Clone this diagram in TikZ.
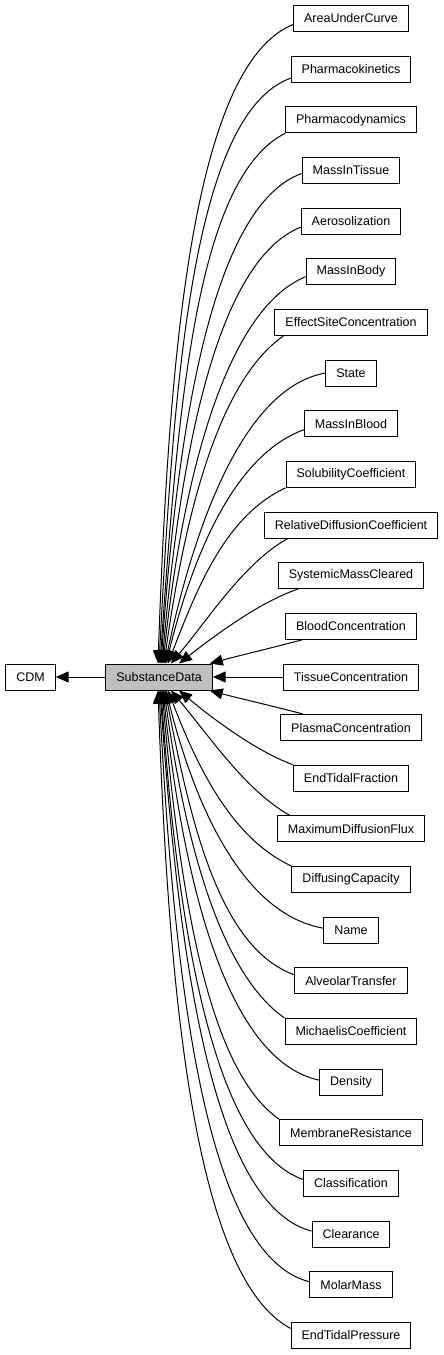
\documentclass[tikz,border=0pt]{standalone}
\usepackage{fontspec}
\setmainfont{Liberation Sans}
\usetikzlibrary{arrows.meta}
\begin{document}
\begin{tikzpicture}[x=1pt,y=1pt]
	\tikzset{cls/.style={rectangle, draw=black, fill=white, line width=1pt, minimum height=26pt, inner xsep=10.5pt, inner ysep=0pt, font=\fontsize{12.5}{15}\selectfont}};
	\tikzset{dep/.style={draw=black, line width=1pt, -{Triangle[length=13pt,width=11pt]}}};
	\useasboundingbox (0,0) rectangle (444,-1355);

	\node[cls] (CDM) at (30.5,-677) {CDM};
	\node[cls,fill=black!25] (SD) at (159,-677) {SubstanceData};

	\node[cls] (AUC) at (351,-18.5) {AreaUnderCurve};
	\node[cls] (PK) at (351,-69.15) {Pharmacokinetics};
	\node[cls] (PD) at (351,-119.8) {Pharmacodynamics};
	\node[cls] (MIT) at (351,-170.45) {MassInTissue};
	\node[cls] (AER) at (351,-221.1) {Aerosolization};
	\node[cls] (MIBo) at (351,-271.75) {MassInBody};
	\node[cls] (ESC) at (351,-322.4) {EffectSiteConcentration};
	\node[cls] (ST) at (351,-373.05) {State};
	\node[cls] (MIBl) at (351,-423.7) {MassInBlood};
	\node[cls] (SC) at (351,-474.35) {SolubilityCoefficient};
	\node[cls] (RDC) at (351,-525) {RelativeDiffusionCoefficient};
	\node[cls] (SMC) at (351,-575.65) {SystemicMassCleared};
	\node[cls] (BC) at (351,-626.3) {BloodConcentration};
	\node[cls] (TC) at (351,-677) {TissueConcentration};
	\node[cls] (PC) at (351,-727.6) {PlasmaConcentration};
	\node[cls] (ETF) at (351,-778.25) {EndTidalFraction};
	\node[cls] (MDF) at (351,-828.9) {MaximumDiffusionFlux};
	\node[cls] (DC) at (351,-879.55) {DiffusingCapacity};
	\node[cls] (NM) at (351,-930.2) {Name};
	\node[cls] (AT) at (351,-980.85) {AlveolarTransfer};
	\node[cls] (MC) at (351,-1031.5) {MichaelisCoefficient};
	\node[cls] (DEN) at (351,-1082.15) {Density};
	\node[cls] (MR) at (351,-1132.8) {MembraneResistance};
	\node[cls] (CLS) at (351,-1183.45) {Classification};
	\node[cls] (CLR) at (351,-1234.1) {Clearance};
	\node[cls] (MM) at (351,-1284.75) {MolarMass};
	\node[cls] (ETP) at (351,-1335.4) {EndTidalPressure};

	\draw[dep] (SD) -- (CDM);
	\draw[dep] (TC) -- (SD);

	% upper half
	\draw[dep] ([yshift=-6pt]AUC.west) to[out=202,in=88,out distance=110pt,in distance=300pt] ([xshift=-1pt]SD.north);
	\draw[dep] ([yshift=-9pt]PK.west) to[out=200,in=87,out distance=105pt,in distance=280pt] (SD.north);
	\draw[dep] (PD.south west) to[out=207,in=86,out distance=100pt,in distance=260pt] ([xshift=1pt]SD.north);
	\draw[dep] ([yshift=-3pt]MIT.west) to[out=200,in=86,out distance=95pt,in distance=240pt] ([xshift=2pt]SD.north);
	\draw[dep] ([yshift=-6pt]AER.west) to[out=202,in=85,out distance=90pt,in distance=215pt] ([xshift=3pt]SD.north);
	\draw[dep] ([yshift=-5pt]MIBo.west) to[out=202,in=84,out distance=85pt,in distance=190pt] ([xshift=4pt]SD.north);
	\draw[dep] ([xshift=9pt]ESC.south west) to[out=215,in=82,out distance=75pt,in distance=165pt] ([xshift=5pt]SD.north);
	\draw[dep] (ST.west) to[out=190,in=78,out distance=85pt,in distance=135pt] ([xshift=6pt]SD.north);
	\draw[dep] ([yshift=-6pt]MIBl.west) to[out=200,in=76,out distance=75pt,in distance=110pt] ([xshift=7pt]SD.north);
	\draw[dep] (SC.south west) to[out=205,in=69,out distance=65pt,in distance=85pt] ([xshift=9pt]SD.north);
	\draw[dep] ([xshift=24pt]RDC.south west) to[out=209,in=50,out distance=50pt,in distance=60pt] ([xshift=12pt]SD.north);
	\draw[dep] ([xshift=20pt]SMC.south west) to[out=198,in=38,out distance=40pt,in distance=40pt] ([xshift=20pt]SD.north);
	\draw[dep] ([xshift=17pt]BC.south west) to[out=195,in=15,out distance=30pt,in distance=30pt] ([xshift=-3pt]SD.north east);

	% lower half
	\draw[dep] ([xshift=23pt]PC.north west) to[out=165,in=-15,out distance=30pt,in distance=30pt] ([xshift=-3pt]SD.south east);
	\draw[dep] (ETF.north west) to[out=160,in=-40,out distance=40pt,in distance=40pt] ([xshift=20pt]SD.south);
	\draw[dep] ([xshift=13pt]MDF.north west) to[out=151,in=-50,out distance=50pt,in distance=60pt] ([xshift=12pt]SD.south);
	\draw[dep] (DC.north west) to[out=155,in=-69,out distance=65pt,in distance=85pt] ([xshift=9pt]SD.south);
	\draw[dep] ([yshift=2pt]NM.west) to[out=170,in=-76,out distance=85pt,in distance=110pt] ([xshift=7pt]SD.south);
	\draw[dep] ([yshift=6pt]AT.west) to[out=160,in=-79,out distance=80pt,in distance=135pt] ([xshift=6pt]SD.south);
	\draw[dep] (MC.north west) to[out=145,in=-82,out distance=75pt,in distance=165pt] ([xshift=5pt]SD.south);
	\draw[dep] ([yshift=2pt]DEN.west) to[out=168,in=-84,out distance=95pt,in distance=190pt] ([xshift=4pt]SD.south);
	\draw[dep] (MR.north west) to[out=145,in=-85,out distance=85pt,in distance=215pt] ([xshift=3pt]SD.south);
	\draw[dep] ([yshift=4pt]CLS.west) to[out=161,in=-86,out distance=95pt,in distance=240pt] ([xshift=2pt]SD.south);
	\draw[dep] ([yshift=3pt]CLR.west) to[out=165,in=-86,out distance=105pt,in distance=260pt] ([xshift=1pt]SD.south);
	\draw[dep] ([yshift=3pt]MM.west) to[out=166,in=-87,out distance=110pt,in distance=280pt] (SD.south);
	\draw[dep] ([yshift=7pt]ETP.west) to[out=152,in=-88,out distance=110pt,in distance=300pt] ([xshift=-1pt]SD.south);
\end{tikzpicture}
\end{document}
